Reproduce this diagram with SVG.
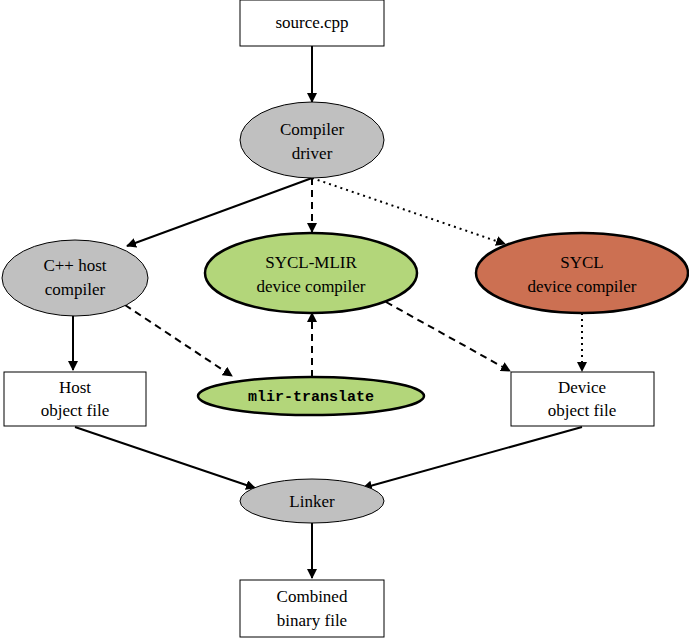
<svg xmlns="http://www.w3.org/2000/svg" width="689" height="639" viewBox="0 0 689 639">
<defs>
<marker id="ah" viewBox="0 0 10 10" refX="9" refY="5" markerWidth="10" markerHeight="10" markerUnits="userSpaceOnUse" orient="auto"><path d="M0,0 L10,5 L0,10 z" fill="#000"/></marker>
<style>
text{font-family:"Liberation Serif",serif;font-size:17px;text-anchor:middle;fill:#000}
.mono{font-family:"Liberation Mono",monospace;font-size:15px;font-weight:bold}
.box{fill:#fff;stroke:#000;stroke-width:1}
.gray{fill:#c0c0c0;stroke:#000;stroke-width:1}
.green{fill:#b3d67a;stroke:#000;stroke-width:2.5}
.red{fill:#cc7052;stroke:#000;stroke-width:2.5}
.e{stroke:#000;stroke-width:2;fill:none;marker-end:url(#ah)}
.dash{stroke-dasharray:7,5}
.dot{stroke-dasharray:2,4}
</style>
</defs>
<g id="connectors">
<line class="e" x1="312" y1="46" x2="312" y2="102"/>
<line class="e" x1="312" y1="178" x2="127" y2="246"/>
<line class="e dash" x1="312" y1="178" x2="312" y2="232"/>
<line class="e dot" x1="312" y1="178" x2="505" y2="244"/>
<line class="e" x1="73" y1="316" x2="73" y2="370"/>
<line class="e dash" x1="125" y1="305" x2="232" y2="376"/>
<line class="e dash" x1="312" y1="377" x2="312" y2="313"/>
<line class="e dash" x1="386" y1="302" x2="510" y2="371"/>
<line class="e dot" x1="582" y1="313" x2="582" y2="371"/>
<line class="e" x1="75" y1="427" x2="255" y2="488"/>
<line class="e" x1="582" y1="427" x2="363" y2="488"/>
<line class="e" x1="312" y1="523" x2="312" y2="578"/>
</g>
<g id="source"><rect class="box" x="240" y="0" width="144" height="46"/><text x="312" y="28">source.cpp</text></g>
<g id="driver"><ellipse class="gray" cx="312" cy="140" rx="72" ry="38"/><text x="312" y="135">Compiler</text><text x="312" y="159">driver</text></g>
<g id="host"><ellipse class="gray" cx="75" cy="278" rx="73" ry="38"/><text x="75" y="271">C++ host</text><text x="75" y="295">compiler</text></g>
<g id="syclmlir"><ellipse class="green" cx="311" cy="273" rx="106" ry="40"/><text x="311" y="268">SYCL-MLIR</text><text x="311" y="292">device compiler</text></g>
<g id="sycl"><ellipse class="red" cx="582" cy="273" rx="106" ry="40"/><text x="582" y="268">SYCL</text><text x="582" y="292">device compiler</text></g>
<g id="mlirtranslate"><ellipse class="green" cx="311" cy="396" rx="113" ry="19"/><text class="mono" x="311" y="401">mlir-translate</text></g>
<g id="hostobj"><rect class="box" x="4" y="372" width="142" height="54"/><text x="75" y="393">Host</text><text x="75" y="416">object file</text></g>
<g id="devobj"><rect class="box" x="511" y="372" width="143" height="54"/><text x="582" y="393">Device</text><text x="582" y="416">object file</text></g>
<g id="linker"><ellipse class="gray" cx="312" cy="501" rx="72" ry="22"/><text x="312" y="507">Linker</text></g>
<g id="combined"><rect class="box" x="240" y="580" width="144" height="57"/><text x="312" y="602">Combined</text><text x="312" y="626">binary file</text></g>
</svg>
